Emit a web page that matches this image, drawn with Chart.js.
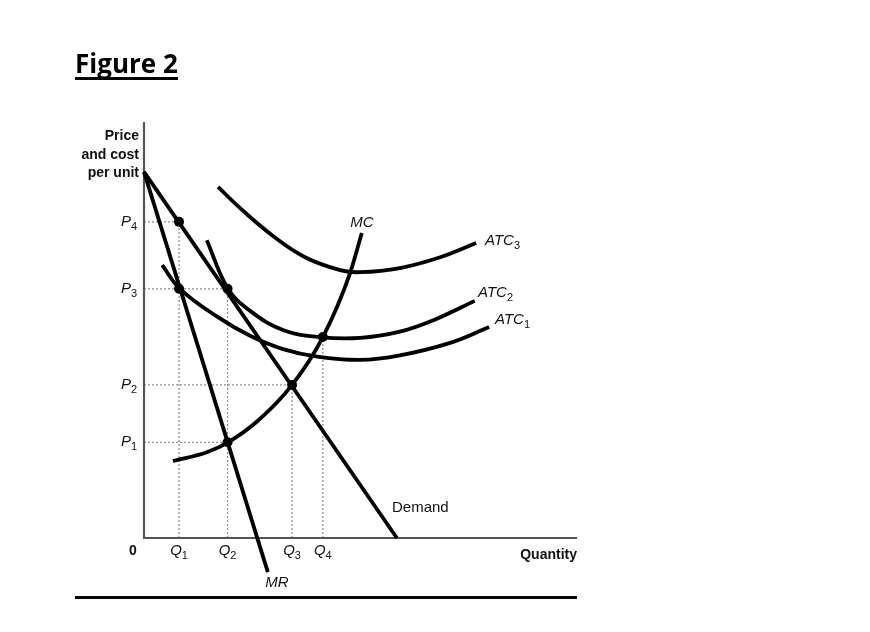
<!DOCTYPE html>
<html>
<head>
<meta charset="utf-8">
<script src="https://cdn.jsdelivr.net/npm/chart.js@4.4.1/dist/chart.umd.min.js"></script>
<style>
  body { margin: 0; background: #fff; overflow: hidden; }
  #wrap { position: relative; width: 870px; height: 632px; }
  #title {
    position: absolute; left: 75px; top: 50px;
    font: bold 26px "Open Sans", sans-serif; line-height: 26px;
    border-bottom: 3px solid #000; padding-bottom: 1px;
  }
  #rule { position: absolute; left: 75px; top: 596px; width: 502px; height: 3px; background: #000; }
  canvas { position: absolute; left: 0; top: 0; }
</style>
</head>
<body>
<div id="wrap">
  <canvas id="chart" width="870" height="632"></canvas>
  <div id="title">Figure 2</div>
  <div id="rule"></div>
</div>
<script>
// tick positions on the axes
const qVals = [8.1, 19.3, 34.2, 41.3];
const qTicks = ["Q1", "Q2", "Q3", "Q4"];
const pVals = [23.0, 36.8, 59.9, 76.0];
const pTicks = ["P1", "P2", "P3", "P4"];

// how far the dotted guides go
const qGuideTop = [76.0, 59.9, 36.8, 48.3];
const pGuideEnd = [19.3, 34.2, 19.3, 8.1];

// straight lines
const demandX = [0, 58.4];
const demandY = [88, 0];
const mrX = [0, 28.6];
const mrY = [88, -8.2];

// curves
const mcX = [6.7, 14.5, 19.4, 26.1, 34.2, 41.3, 47.6, 50.3];
const mcY = [18.5, 20.6, 23.0, 28.0, 36.8, 48.3, 63.7, 73.3];
const atc1X = [4.2, 8.3, 16.9, 24.5, 32.1, 40.0, 49.9, 59.1, 70.7, 79.7];
const atc1Y = [65.6, 59.9, 53.2, 48.6, 45.4, 43.6, 42.8, 43.9, 46.9, 50.7];
const atc2X = [14.5, 19.4, 24.5, 32.1, 40.6, 49.9, 59.1, 66.7, 76.4];
const atc2Y = [71.6, 59.9, 54.6, 50.0, 48.3, 48.1, 49.6, 52.3, 57.0];
const atc3X = [17.1, 22.2, 29.8, 37.2, 45.3, 49.9, 59.1, 68.4, 76.7];
const atc3Y = [84.4, 79.3, 72.6, 67.5, 64.4, 63.9, 64.9, 67.5, 70.9];

// marked intersections
const dotX = [8.1, 8.1, 19.3, 19.3, 34.2, 41.3];
const dotY = [76.0, 59.9, 59.9, 23.0, 36.8, 48.3];

const pts = (xs, ys) => xs.map((x, i) => ({ x: x, y: ys[i] }));

function curve(xs, ys, mono) {
  const ds = {
    data: pts(xs, ys), borderColor: "#000", borderWidth: 3.8,
    pointRadius: 0, tension: 0.4, clip: false, order: 1
  };
  if (mono) ds.cubicInterpolationMode = "monotone";
  return ds;
}
function line(xs, ys) {
  return { data: pts(xs, ys), borderColor: "#000", borderWidth: 3.8, pointRadius: 0, clip: false, order: 1 };
}
function guide(xs, ys) {
  return { data: pts(xs, ys), borderColor: "#888", borderWidth: 1.2, borderDash: [2, 2], pointRadius: 0, order: 3 };
}

const datasets = [];
qVals.forEach((q, i) => datasets.push(guide([q, q], [0, qGuideTop[i]])));
pVals.forEach((p, i) => datasets.push(guide([0, pGuideEnd[i]], [p, p])));
// axes
datasets.push({ data: pts([0, 0, 100], [100, 0, 0]), borderColor: "#555", borderWidth: 2.2, pointRadius: 0, clip: false, order: 2 });
datasets.push(line(demandX, demandY));
datasets.push(line(mrX, mrY));
datasets.push(curve(mcX, mcY, true));
datasets.push(curve(atc1X, atc1Y));
datasets.push(curve(atc2X, atc2Y));
datasets.push(curve(atc3X, atc3Y));
datasets.push({
  data: pts(dotX, dotY), showLine: false, pointRadius: 5,
  pointBackgroundColor: "#000", pointBorderWidth: 0, order: 0
});

const FONT = '"Liberation Sans", Arial, sans-serif';

// text with a subscript, e.g. P4, ATC3
function subText(ctx, main, sub, x, y, size, align, italic) {
  const st = italic ? "italic " : "";
  ctx.font = st + size + "px " + FONT;
  const w1 = ctx.measureText(main).width;
  ctx.font = Math.round(size * 0.7) + "px " + FONT;
  const w2 = ctx.measureText(sub).width;
  let left = x;
  if (align === "center") left = x - (w1 + w2) / 2;
  if (align === "right") left = x - (w1 + w2);
  ctx.textAlign = "left";
  ctx.textBaseline = "middle";
  ctx.font = st + size + "px " + FONT;
  ctx.fillText(main, left, y);
  ctx.font = Math.round(size * 0.7) + "px " + FONT;
  ctx.fillText(sub, left + w1, y + size * 0.32);
}

const labels = {
  id: "labels",
  afterDatasetsDraw(chart) {
    const ctx = chart.ctx;
    const xs = chart.scales.x, ys = chart.scales.y;
    const x0 = xs.getPixelForValue(0), y0 = ys.getPixelForValue(0);
    ctx.save();
    ctx.fillStyle = "#111";

    pVals.forEach((p, i) => subText(ctx, pTicks[i][0], pTicks[i].slice(1), x0 - 7, ys.getPixelForValue(p), 15, "right", true));
    qVals.forEach((q, i) => subText(ctx, qTicks[i][0], qTicks[i].slice(1), xs.getPixelForValue(q), y0 + 13, 15, "center", true));

    ctx.textBaseline = "middle";
    ctx.font = "bold 14px " + FONT;
    ctx.textAlign = "center";
    ctx.fillText("0", x0 - 11, y0 + 13);

    ctx.font = "bold 14px " + FONT;
    ctx.textAlign = "right";
    ctx.fillText("Price", x0 - 5, 136);
    ctx.fillText("and cost", x0 - 5, 155);
    ctx.fillText("per unit", x0 - 5, 173);
    ctx.fillText("Quantity", xs.getPixelForValue(100), y0 + 17);

    ctx.font = "15px " + FONT;
    ctx.textAlign = "left";
    ctx.fillText("Demand", 392, 508);

    ctx.font = "italic 15px " + FONT;
    ctx.textAlign = "center";
    ctx.fillText("MR", 277, 583);
    ctx.fillText("MC", 362, 223);

    subText(ctx, "ATC", "3", 485, 241, 15, "left", true);
    subText(ctx, "ATC", "2", 478, 293, 15, "left", true);
    subText(ctx, "ATC", "1", 495, 320, 15, "left", true);
    ctx.restore();
  }
};

new Chart(document.getElementById("chart"), {
  type: "line",
  data: { datasets: datasets },
  options: {
    responsive: false,
    devicePixelRatio: 1,
    animation: false,
    layout: { padding: { left: 144, right: 293, top: 122, bottom: 94 } },
    scales: {
      x: { type: "linear", min: 0, max: 100, display: false },
      y: { type: "linear", min: 0, max: 100, display: false }
    },
    plugins: { legend: { display: false }, tooltip: { enabled: false } }
  },
  plugins: [labels]
});
</script>
</body>
</html>
